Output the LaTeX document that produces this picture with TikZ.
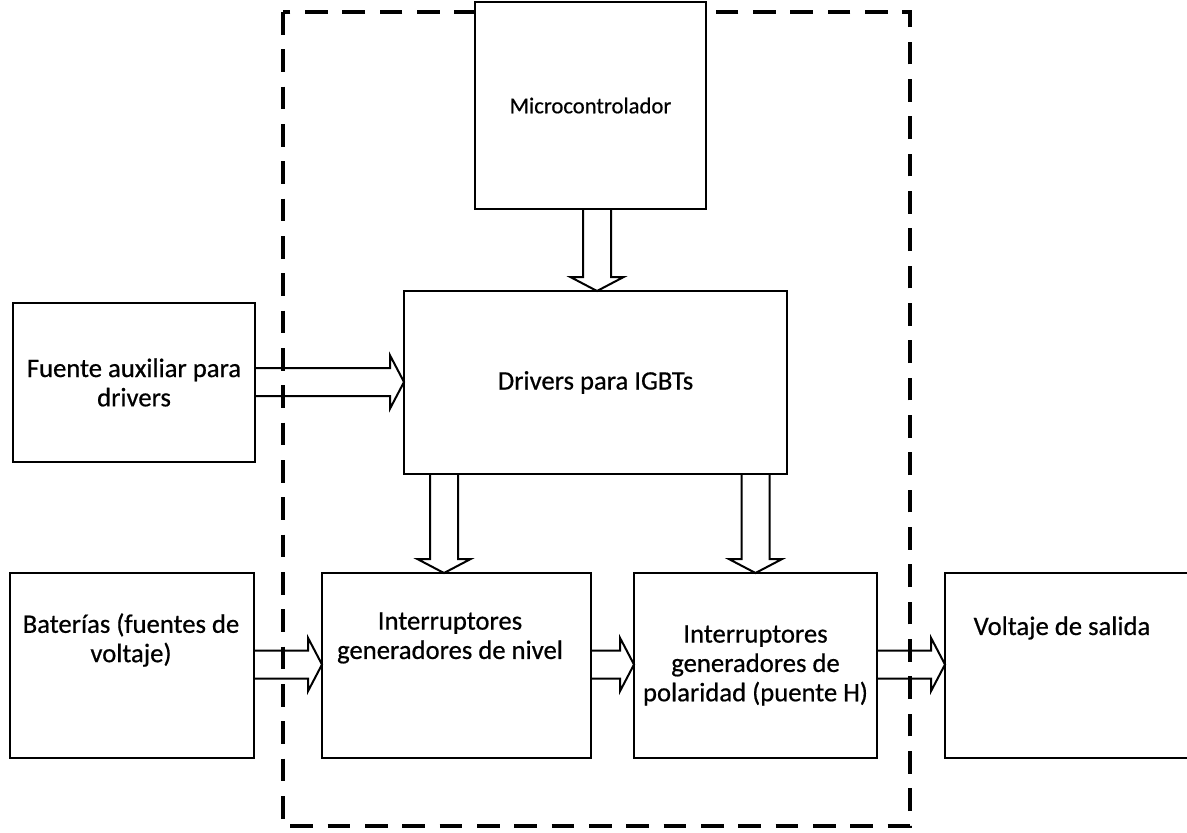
\documentclass[tikz,border=0pt]{standalone}
\usepackage{fontspec}
\setmainfont{Carlito}[FakeBold=0.6]
\usetikzlibrary{calc}

% hollow block arrow going down, centred at x = #3
\newcommand{\blockdown}[3]{%
  \draw[blockarrow] let \p1=(#1.south), \p2=(#2.north), \p3=(#3,0) in
    (\x3-10.5pt,\y1) -- (\x3-10.5pt,\y2+10.5pt) -- (\x3-20pt,\y2+10.5pt)
    -- (\x3,\y2) -- (\x3+20pt,\y2+10.5pt) -- (\x3+10.5pt,\y2+10.5pt)
    -- (\x3+10.5pt,\y1);}
% hollow block arrow going right, centred at y = #3
\newcommand{\blockright}[3]{%
  \draw[blockarrow] let \p1=(#1.east), \p2=(#2.west), \p3=(0,#3) in
    (\x1,\y3+10.5pt) -- (\x2-10.5pt,\y3+10.5pt) -- (\x2-10.5pt,\y3+20pt)
    -- (\x2,\y3) -- (\x2-10.5pt,\y3-20pt) -- (\x2-10.5pt,\y3-10.5pt)
    -- (\x1,\y3-10.5pt);}

\begin{document}
\begin{tikzpicture}[x=0.75pt,y=-0.75pt,
    block/.style={draw, fill=white, line width=1.6pt, inner sep=0pt, outer sep=0pt,
      font=\fontsize{20}{22}\selectfont, align=center},
    label text/.style={font=\fontsize{20}{22}\selectfont, align=center, inner sep=0pt},
    blockarrow/.style={line width=1.5pt, line join=miter},
    frame/.style={line width=2.8pt, dash pattern=on 17pt off 11pt}]
	\useasboundingbox (0,0) rectangle (1187,832);

	% Dashed frame around the inverter stage
	\draw[frame] (283,12) rectangle (910,826);

	% Blocks
	\node[block, minimum width=173.25pt, minimum height=155.25pt,
		font=\fontsize{17}{20}\selectfont] (micro) at (590.5,105.5) {Microcontrolador};
	\node[block, minimum width=287.25pt, minimum height=137.25pt] (drivers) at (595.5,382.5) {Drivers para IGBTs};
	\node[block, minimum width=181.5pt, minimum height=119.25pt] (fuente) at (134,382.5) {Fuente auxiliar para\\drivers};
	\node[block, minimum width=183pt, minimum height=138.75pt] (bat) at (132,665.5) {};
	\node[block, minimum width=201.75pt, minimum height=138.75pt] (nivel) at (456.5,665.5) {};
	\node[block, minimum width=182.25pt, minimum height=138.75pt] (pol) at (755.5,665.5)
		{Interruptores\\generadores de\\polaridad (puente H)};
	\node[block, minimum width=183.75pt, minimum height=138.75pt] (volt) at (1067.5,665.5) {};

	% Texts sitting above the centre of their blocks
	\node[label text] (bat-txt) at (131,640) {Baterías (fuentes de\\voltaje)};
	\node[label text] (nivel-txt) at (450,638) {Interruptores\\generadores de nivel};
	\node[label text] (volt-txt) at (1062,628) {Voltaje de salida};

	% Block arrows
	\blockdown{micro}{drivers}{597}
	\blockdown{drivers}{nivel}{444}
	\blockdown{drivers}{pol}{755.5}
	\blockright{fuente}{drivers}{382}
	\blockright{bat}{nivel}{664.5}
	\blockright{nivel}{pol}{664.5}
	\blockright{pol}{volt}{664.5}
\end{tikzpicture}
\end{document}
